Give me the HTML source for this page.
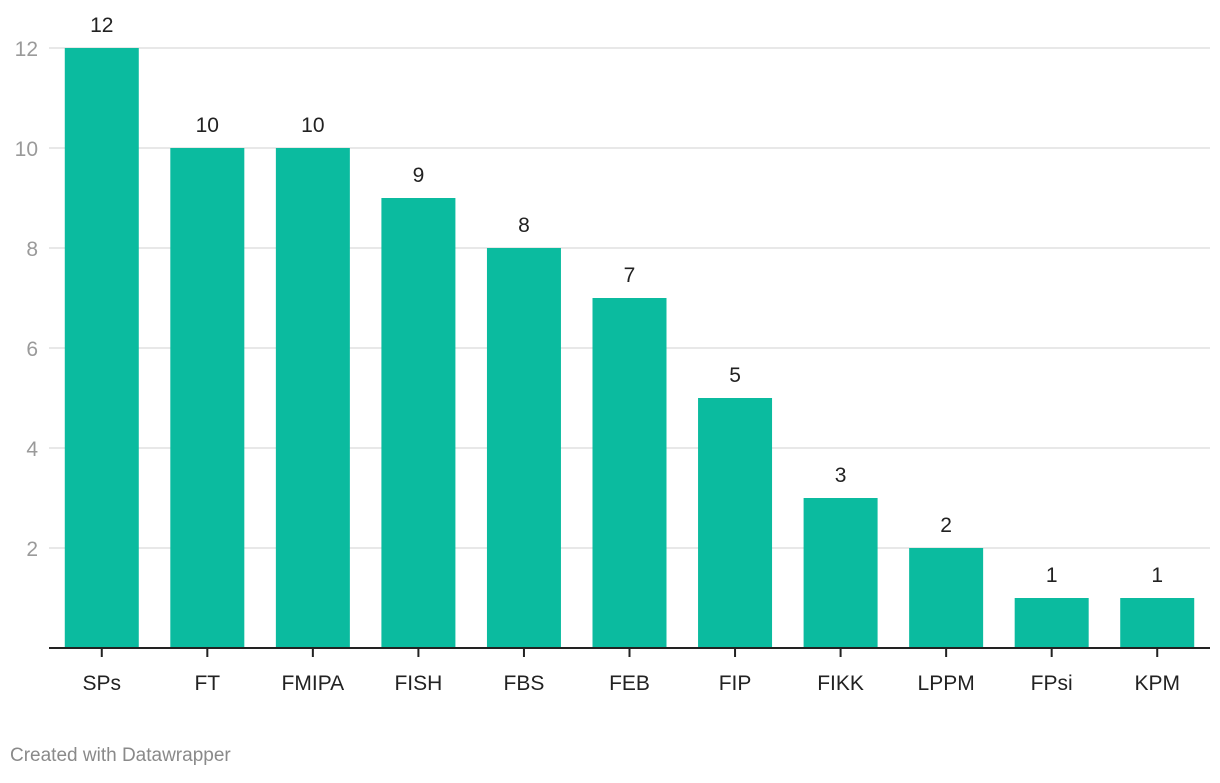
<!DOCTYPE html>
<html><head><meta charset="utf-8"><style>
body{margin:0;background:#fff;width:1220px;height:778px;overflow:hidden;font-family:"Liberation Sans",sans-serif}
</style></head><body>
<svg width="1220" height="778" id="chart"></svg>
<script>
const categories=["SPs","FT","FMIPA","FISH","FBS","FEB","FIP","FIKK","LPPM","FPsi","KPM"];
const values=[12,10,10,9,8,7,5,3,2,1,1];
const yTicks=[2,4,6,8,10,12];
const svg=document.getElementById('chart');
const NS='http://www.w3.org/2000/svg';
const x0=49,x1=1210,yBase=648,pxPerUnit=50;
const slot=(x1-x0)/categories.length,bw=74;
function y(v){return yBase-v*pxPerUnit;}
function xc(i){return x0+slot*(i+0.5);}
function mk(tag,attrs,text){const e=document.createElementNS(NS,tag);for(const k in attrs)e.setAttribute(k,attrs[k]);if(text!==undefined)e.textContent=text;svg.appendChild(e);return e;}
yTicks.forEach(t=>{
 const g=mk('line',{x1:x0,x2:x1,y1:y(t),y2:y(t),stroke:'#e0e0e0','stroke-width':1.5});
 
 
 const l=mk('text',{x:38,y:y(t)+8,'text-anchor':'end','font-size':21,fill:'#9a9a9a'},t);
 
 
});
categories.forEach((c,i)=>{
 const cx=xc(i);
 const b=mk('rect',{x:cx-bw/2,y:y(values[i]),width:bw,height:values[i]*pxPerUnit,fill:'#0bbb9f'});
 
 
 const v=mk('text',{x:cx,y:y(values[i])-16,'text-anchor':'middle','font-size':21,fill:'#222'},values[i]);
 
 
 const tk=mk('line',{x1:cx,x2:cx,y1:yBase,y2:yBase+9,stroke:'#222','stroke-width':2});
 
 
 const cl=mk('text',{x:cx,y:690,'text-anchor':'middle','font-size':21,fill:'#222'},c);
 
 
});
const ax=mk('line',{x1:x0,x2:x1,y1:yBase,y2:yBase,stroke:'#222','stroke-width':2});


const f=mk('text',{x:10,y:761,'font-size':19,fill:'#8a8a8a'},'Created with Datawrapper');


</script>
</body></html>
